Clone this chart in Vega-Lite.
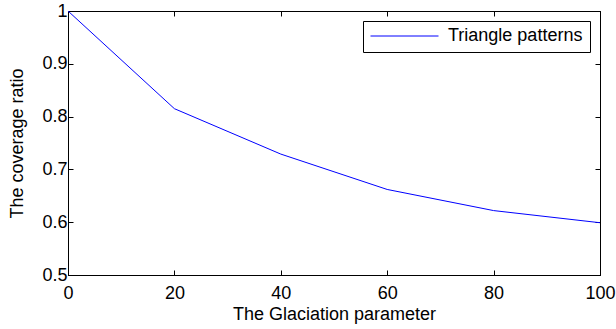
{
  "$schema": "https://vega.github.io/schema/vega-lite/v6.json",
  "width": 532,
  "height": 264,
  "autosize": "none",
  "padding": {"left": 68, "top": 11, "right": 16, "bottom": 54},
  "background": "white",
  "config": {
    "font": "Liberation Sans",
    "view": {"stroke": "black", "strokeWidth": 1},
    "axis": {"grid": false, "domainColor": "black", "tickColor": "black", "labelColor": "black", "titleColor": "black", "labelFontSize": 18, "titleFontSize": 18, "titleFontWeight": "normal", "labelFont": "Liberation Sans", "titleFont": "Liberation Sans", "tickSize": -5, "labelFlush": false, "labelOverlap": false}
  },
  "data": {"values": [
    {"x": 0, "y": 1.0, "s": "Triangle patterns"},
    {"x": 20, "y": 0.815, "s": "Triangle patterns"},
    {"x": 40, "y": 0.729, "s": "Triangle patterns"},
    {"x": 60, "y": 0.662, "s": "Triangle patterns"},
    {"x": 80, "y": 0.622, "s": "Triangle patterns"},
    {"x": 100, "y": 0.599, "s": "Triangle patterns"}
  ]},
  "layer": [
    {
      "mark": {"type": "line", "strokeWidth": 1, "clip": true},
      "encoding": {
        "x": {"field": "x", "type": "quantitative", "scale": {"domain": [0, 100], "nice": false},
          "axis": {"title": "The Glaciation parameter", "values": [0, 20, 40, 60, 80, 100], "labelPadding": 14, "titlePadding": 3}},
        "y": {"field": "y", "type": "quantitative", "scale": {"domain": [0.5, 1], "nice": false, "zero": false},
          "axis": {"title": "The coverage ratio", "values": [0.5, 0.6, 0.7, 0.8, 0.9, 1], "format": "~g", "labelPadding": 6, "titlePadding": 15}},
        "color": {"field": "s", "type": "nominal", "scale": {"range": ["#0000ff"]},
          "legend": {"title": null, "orient": "top-right", "offset": 10, "symbolType": "stroke", "symbolSize": 4624, "symbolStrokeWidth": 1, "clipHeight": 16, "labelFontSize": 18, "labelFont": "Liberation Sans", "labelColor": "black", "strokeColor": "black", "fillColor": "white", "padding": 7, "labelOffset": 9, "cornerRadius": 0}}
      }
    },
    {
      "mark": {"type": "line", "strokeWidth": 1, "opacity": 0},
      "encoding": {
        "x": {"field": "x", "type": "quantitative", "scale": {"domain": [0, 100], "nice": false},
          "axis": {"orient": "top", "title": null, "labels": false, "values": [0, 20, 40, 60, 80, 100]}},
        "y": {"field": "y", "type": "quantitative", "scale": {"domain": [0.5, 1], "nice": false, "zero": false},
          "axis": {"orient": "right", "title": null, "labels": false, "values": [0.5, 0.6, 0.7, 0.8, 0.9, 1]}}
      }
    }
  ],
  "resolve": {"axis": {"x": "independent", "y": "independent"}}
}
